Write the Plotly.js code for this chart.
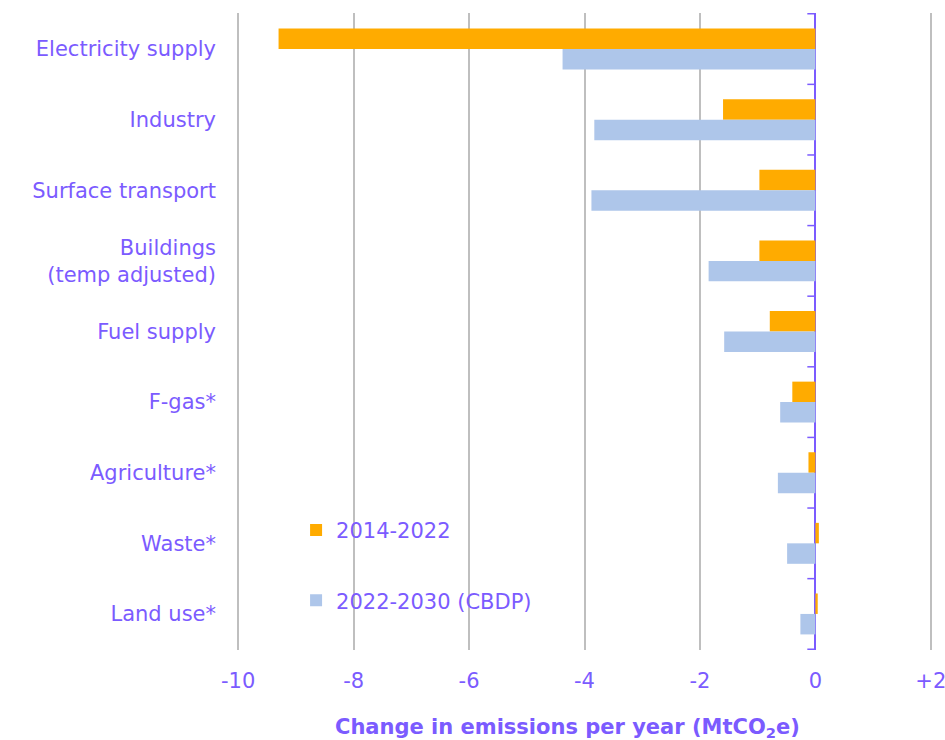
<!DOCTYPE html>
<html>
<head>
<meta charset="utf-8">
<script src="https://cdn.plot.ly/plotly-3.0.1.min.js"></script>
<style>html,body{margin:0;padding:0;background:#fff;}#chart{width:945px;height:740px;}</style>
</head>
<body>
<div id="chart"></div>
<script>
var categories = ["Electricity supply", "Industry", "Surface transport", "Buildings<br>(temp adjusted)", "Fuel supply", "F-gas*", "Agriculture*", "Waste*", "Land use*"];
var series2014 = [-9.30, -1.60, -0.97, -0.97, -0.79, -0.40, -0.12, 0.06, 0.04];
var series2022 = [-4.38, -3.83, -3.88, -1.85, -1.58, -0.61, -0.65, -0.49, -0.26];
var seriesNames = ["2014-2022", "2022-2030 (CBDP)"];
var tickVals = [-10, -8, -6, -4, -2, 0, 2];
var tickText = ["-10", "-8", "-6", "-4", "-2", "0", "+2"];
var xTitle = "<b>Change in emissions per year (MtCO<sub>2</sub>e)</b>";

var purple = "#7B5BFF";
var font = "'DejaVu Sans', sans-serif";

var traces = [
  {type: "bar", orientation: "h", name: seriesNames[0], y: categories, x: series2014,
   marker: {color: "#FFAB00"}, legendgroup: "a"},
  {type: "bar", orientation: "h", name: seriesNames[1], y: categories, x: series2022,
   marker: {color: "#AEC6EA"}, legendgroup: "b"}
];

var shapes = [];
for (var i = 0; i <= categories.length; i++) {
  shapes.push({type: "line", xref: "x", yref: "y", x0: -0.14, x1: 0, y0: i - 0.5, y1: i - 0.5,
    line: {color: purple, width: 1.5}});
}

var layout = {
  width: 945, height: 740,
  margin: {l: 237, r: 13, t: 13, b: 90},
  paper_bgcolor: "#fff", plot_bgcolor: "#fff",
  barmode: "group", bargap: 0.42, bargroupgap: 0,
  font: {family: font, color: purple, size: 21},
  showlegend: true,
  legend: {x: 0.085, y: 0.22, xanchor: "left", yanchor: "top", traceorder: "grouped",
    tracegroupgap: 40, bgcolor: "rgba(0,0,0,0)", font: {size: 21, color: purple}},
  xaxis: {range: [-10.02, 2.02], tickvals: tickVals, ticktext: tickText,
    showgrid: true, gridcolor: "#BFBFBF", gridwidth: 1.5,
    zeroline: true, zerolinecolor: purple, zerolinewidth: 1.5,
    showline: false, ticks: "outside", ticklen: 12, tickcolor: "rgba(0,0,0,0)",
    ticklabeloverflow: "allow",
    tickfont: {size: 21, color: purple}},
  yaxis: {autorange: "reversed", showgrid: false, zeroline: false, showline: false,
    ticks: "", ticklabelstandoff: 20, tickfont: {size: 21, color: purple}},
  annotations: [{text: xTitle, xref: "paper", yref: "paper", x: 0.4755, y: -0.1225,
    xanchor: "center", yanchor: "middle", showarrow: false, font: {size: 21, color: purple}}],
  shapes: shapes
};

Plotly.newPlot("chart", traces, layout, {displayModeBar: false});
</script>
</body>
</html>
